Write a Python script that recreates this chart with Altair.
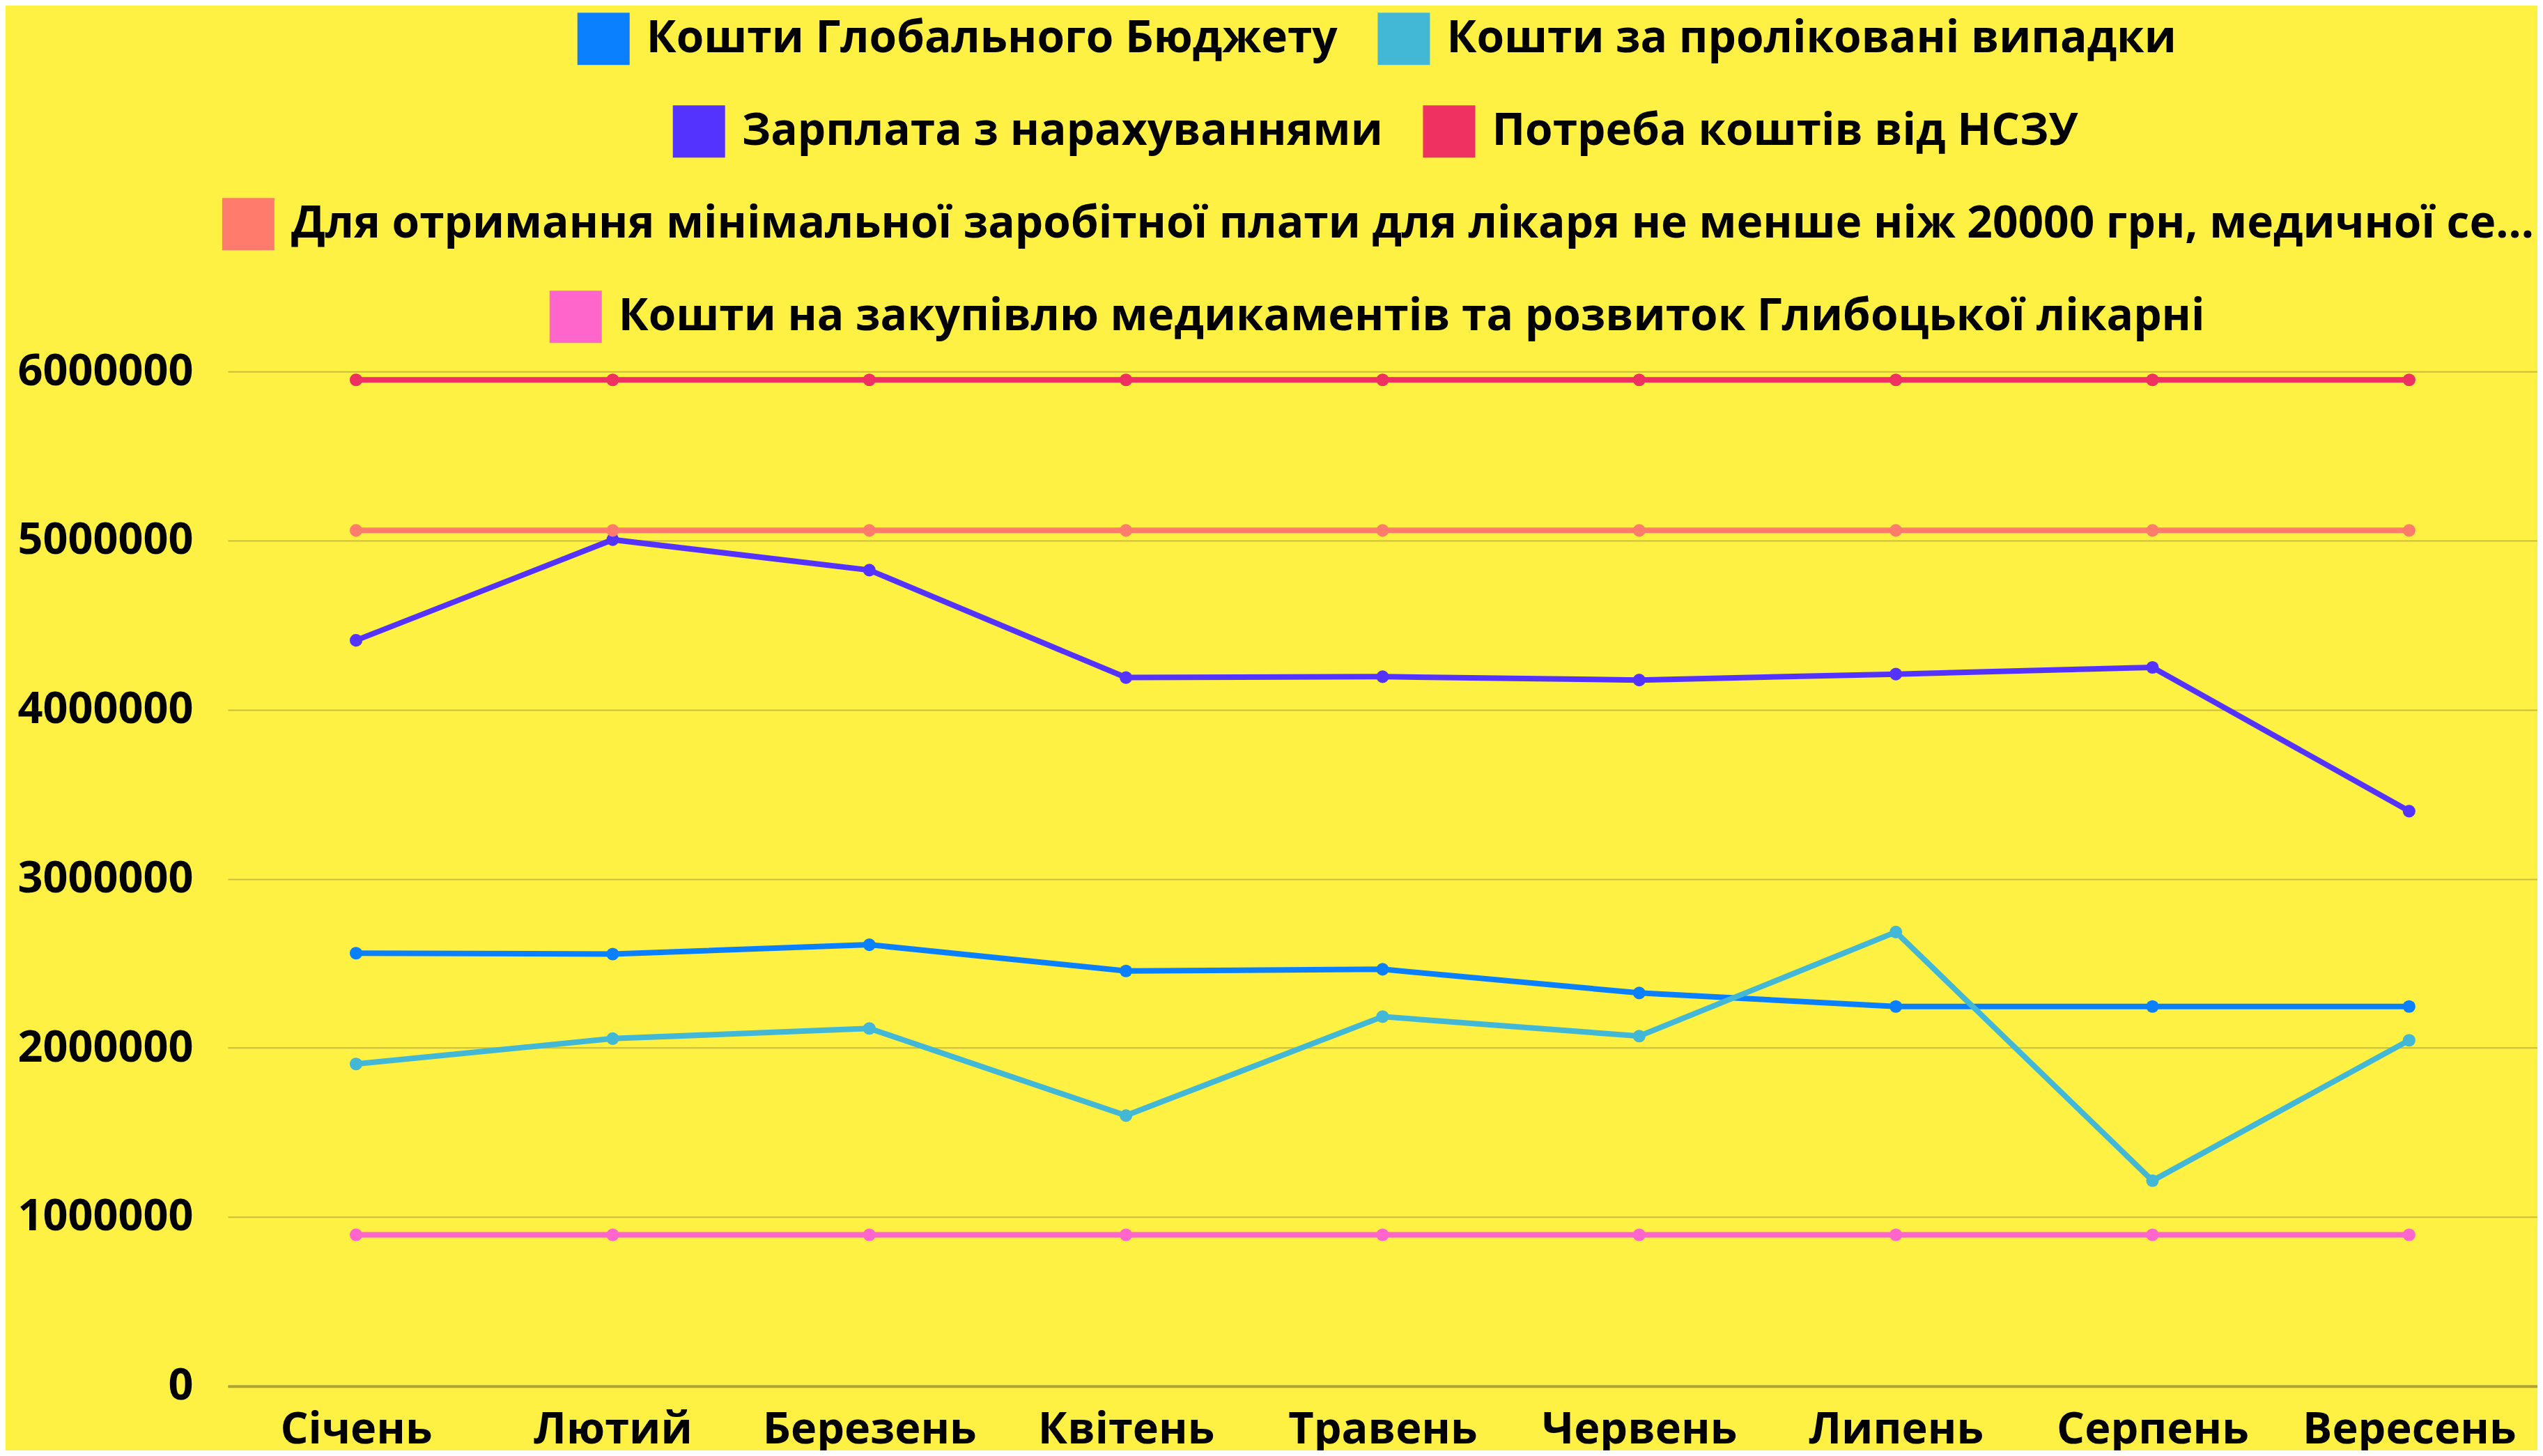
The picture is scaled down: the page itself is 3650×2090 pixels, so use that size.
import altair as alt
import pandas as pd

months = ["Січень", "Лютий", "Березень", "Квітень", "Травень", "Червень", "Липень", "Серпень", "Вересень"]

s_global = "Кошти Глобального Бюджету"
s_treated = "Кошти за проліковані випадки"
s_salary = "Зарплата з нарахуваннями"
s_need = "Потреба коштів від НСЗУ"
s_min = "Для отримання мінімальної заробітної плати для лікаря не менше ніж 20000 грн, медичної се..."
s_drugs = "Кошти на закупівлю медикаментів та розвиток Глибоцької лікарні"

v_global = [2560000, 2555000, 2610000, 2455000, 2465000, 2325000, 2245000, 2245000, 2245000]
v_treated = [1905000, 2055000, 2115000, 1600000, 2185000, 2070000, 2685000, 1215000, 2045000]
v_salary = [4410000, 5005000, 4825000, 4190000, 4195000, 4175000, 4210000, 4250000, 3400000]
v_need = [5950000] * 9
v_min = [5060000] * 9
v_drugs = [895000] * 9

series_values = {
    s_global: v_global,
    s_treated: v_treated,
    s_salary: v_salary,
    s_need: v_need,
    s_min: v_min,
    s_drugs: v_drugs,
}
series_colors = {
    s_global: "#0A80FF",
    s_treated: "#42B7D6",
    s_salary: "#5533FF",
    s_need: "#EE3160",
    s_min: "#FF7B6B",
    s_drugs: "#FF66CC",
}

rows = []
for name, vals in series_values.items():
    for m, v in zip(months, vals):
        rows.append({"month": m, "series": name, "value": v})
df = pd.DataFrame(rows)

FONT = "Open Sans"
FS = 63
LFS = 64

# legend groups: (series list, legendX, legendY) relative to plot origin
groups = [
    ([s_global, s_treated], 502, -515),
    ([s_salary, s_need], 639, -382),
    ([s_min], -8, -249),
    ([s_drugs], 462, -116),
]

x_enc = alt.X(
    "month:N",
    sort=months,
    scale=alt.Scale(type="point", padding=0.5),
    axis=alt.Axis(
        title=None, labelAngle=0, labelFontSize=FS, labelFont=FONT, labelFontWeight="bold",
        labelColor="black", ticks=False, labelPadding=32, domain=True, labelLimit=1000,
        domainColor="#B0A336", domainWidth=4, grid=False,
    ),
)
y_enc = alt.Y(
    "value:Q",
    scale=alt.Scale(domain=[0, 6000000], nice=False),
    axis=alt.Axis(
        title=None, values=[0, 1000000, 2000000, 3000000, 4000000, 5000000, 6000000],
        format="d", labelFontSize=FS, labelFont=FONT, labelFontWeight="bold",
        labelColor="black", ticks=False, domain=False, labelPadding=50, labelLimit=1000,
        grid=True, gridColor="#C9BD3A", gridWidth=2,
    ),
)

line_layers = []
point_layers = []
for names, lx, ly in groups:
    sub = df[df["series"].isin(names)]
    scale = alt.Scale(domain=names, range=[series_colors[n] for n in names])
    lines = alt.Chart(sub).mark_line(strokeWidth=8).encode(
        x=x_enc, y=y_enc,
        color=alt.Color("series:N", scale=scale, legend=None),
    )
    pts = alt.Chart(sub).mark_circle(size=330, opacity=1).encode(
        x=x_enc, y=y_enc,
        color=alt.Color(
            "series:N", scale=scale,
            legend=alt.Legend(
                title=None, orient="none", legendX=lx, legendY=ly,
                direction="horizontal", symbolType="square", symbolSize=5625,
                symbolStrokeWidth=0, symbolOpacity=1,
                labelFontSize=LFS, labelFont=FONT, labelFontWeight="bold",
                labelColor="black", labelOffset=24, columnPadding=57,
                labelLimit=4000,
            ),
        ),
    )
    line_layers.append(lines)
    point_layers.append(pts)

chart = (
    alt.layer(*line_layers, *point_layers)
    .resolve_scale(color="independent")
    .resolve_legend(color="independent")
    .properties(
        width=3316,
        height=1457,
        autosize=alt.AutoSizeParams(type="none"),
        padding={"left": 319, "top": 525, "right": 0, "bottom": 92},
        background="#FFF044",
    )
    .configure_view(stroke=None)
)

chart.save("out.html", embed_options={"renderer": "svg", "actions": False})
